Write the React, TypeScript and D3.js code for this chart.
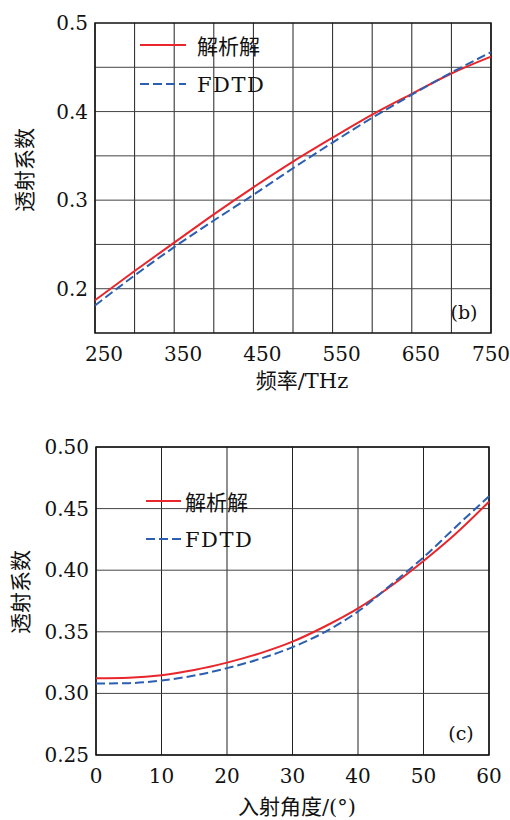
import React from "react";
import { scaleLinear, line, curveMonotoneX, range } from "d3";

// panel (b): transmission vs frequency
const freqTHz = [250, 300, 350, 400, 450, 500, 550, 600, 650, 700, 750];
const freqAnalytic = [0.187, 0.22, 0.252, 0.284, 0.3145, 0.3435, 0.3705, 0.3965, 0.42, 0.443, 0.462];
const freqFdtd = [0.181, 0.215, 0.247, 0.277, 0.306, 0.336, 0.365, 0.393, 0.419, 0.444, 0.467];
const freqTicks = [250, 350, 450, 550, 650, 750];
const freqYTicks = [0.2, 0.3, 0.4, 0.5];

// panel (c): transmission vs incidence angle
const angleDeg = [0, 5, 10, 15, 20, 25, 30, 35, 40, 45, 50, 55, 60];
const angleAnalytic = [0.3123, 0.3128, 0.3148, 0.319, 0.325, 0.3325, 0.342, 0.3545, 0.369, 0.387, 0.4075, 0.43, 0.4556];
const angleFdtd = [0.308, 0.3083, 0.3105, 0.3145, 0.3205, 0.328, 0.3375, 0.35, 0.3665, 0.388, 0.4105, 0.4355, 0.46];
const angleTicks = [0, 10, 20, 30, 40, 50, 60];
const angleYTicks = [0.25, 0.3, 0.35, 0.4, 0.45, 0.5];

const legendNames = ["解析解", "FDTD"];
const RED = "#e8262c";
const BLUE = "#2c5fb0";
const serif = "'DejaVu Serif', 'Liberation Serif', 'Times New Roman', serif";
const cjk = "'Noto Sans CJK SC', sans-serif";
const serifStyle = { fontFamily: serif };
const cjkStyle = { fontFamily: cjk };

type PanelProps = {
  box: { x0: number; x1: number; y0: number; y1: number };
  xDomain: [number, number];
  yDomain: [number, number];
  xs: number[];
  a: number[];
  b: number[];
  xGrid: number[];
  yGrid: number[];
  xTicks: number[];
  yTicks: number[];
  yFmt: (v: number) => string;
  xShift: number;
  xLabel: [string, string];
  xLabelPos: [number, number];
  yLabelPos: [number, number];
  legend: { x0: number; x1: number; tx: number; y: number[] };
  tag: string;
  tagPos: [number, number];
};

const Panel = (p: PanelProps) => {
  const x = scaleLinear().domain(p.xDomain).range([p.box.x0, p.box.x1]);
  const y = scaleLinear().domain(p.yDomain).range([p.box.y1, p.box.y0]);
  const gen = line<number>()
    .x((_, i) => x(p.xs[i]))
    .y(d => y(d))
    .curve(curveMonotoneX);
  return (
    <g>
      {p.xGrid.map(v => (
        <line key={"vx" + v} x1={x(v)} x2={x(v)} y1={p.box.y0} y2={p.box.y1} stroke="#222" strokeWidth={1} />
      ))}
      {p.yGrid.map(v => (
        <line key={"hy" + v} x1={p.box.x0} x2={p.box.x1} y1={y(v)} y2={y(v)} stroke="#444" strokeWidth={1} />
      ))}
      <rect x={p.box.x0} y={p.box.y0} width={p.box.x1 - p.box.x0} height={p.box.y1 - p.box.y0}
        fill="none" stroke="#111" strokeWidth={1.5} />
      <path d={gen(p.a) || ""} fill="none" stroke={RED} strokeWidth={2} />
      <path d={gen(p.b) || ""} fill="none" stroke={BLUE} strokeWidth={2} strokeDasharray="9,4" />
      {p.xTicks.map(v => (
        <text key={"xt" + v} x={Math.min(x(v) + p.xShift, 491)} y={p.box.y1 + 28}
          textAnchor="middle" style={serifStyle} fontSize={20} fill="#111">{v}</text>
      ))}
      {p.yTicks.map(v => (
        <text key={"yt" + v} x={p.box.x0 - 7} y={y(v) + 7}
          textAnchor="end" style={serifStyle} fontSize={20} fill="#111">{p.yFmt(v)}</text>
      ))}
      <text x={p.xLabelPos[0]} y={p.xLabelPos[1]} textAnchor="middle" fontSize={21} fill="#111">
        <tspan style={cjkStyle}>{p.xLabel[0]}</tspan>
        <tspan style={serifStyle} fontSize={21}>{p.xLabel[1]}</tspan>
      </text>
      <text transform={`translate(${p.yLabelPos[0]},${p.yLabelPos[1]}) rotate(-90)`} textAnchor="middle"
        dominantBaseline="central" style={cjkStyle} fontSize={21} fill="#111">透射系数</text>
      <line x1={p.legend.x0} x2={p.legend.x1} y1={p.legend.y[0]} y2={p.legend.y[0]} stroke={RED} strokeWidth={2} />
      <line x1={p.legend.x0} x2={p.legend.x1} y1={p.legend.y[1]} y2={p.legend.y[1]} stroke={BLUE} strokeWidth={2}
        strokeDasharray="9,4" />
      <text x={p.legend.tx} y={p.legend.y[0]} dominantBaseline="central" style={cjkStyle} fontSize={21} fill="#111">
        {legendNames[0]}
      </text>
      <text x={p.legend.tx} y={p.legend.y[1] + 1} dominantBaseline="central" style={serifStyle} fontSize={21}
        letterSpacing={1.5} fill="#111">
        {legendNames[1]}
      </text>
      <text x={p.tagPos[0]} y={p.tagPos[1]} textAnchor="middle" dominantBaseline="central"
        style={serifStyle} fontSize={19} fill="#111">{p.tag}</text>
    </g>
  );
};

export default function App() {
  return (
    <svg width={510} height={820} style={{ position: "absolute", left: 0, top: 0, background: "#fff" }}>
      <Panel
        box={{ x0: 95, x1: 491, y0: 23, y1: 333 }}
        xDomain={[250, 750]}
        yDomain={[0.15, 0.5]}
        xs={freqTHz}
        a={freqAnalytic}
        b={freqFdtd}
        xGrid={range(250, 751, 50)}
        yGrid={[0.2, 0.25, 0.3, 0.35, 0.4, 0.45]}
        xTicks={freqTicks}
        yTicks={freqYTicks}
        yFmt={v => v.toFixed(1)}
        xShift={9}
        xLabel={["频率", "/THz"]}
        xLabelPos={[302, 388]}
        yLabelPos={[23, 170]}
        legend={{ x0: 140, x1: 186, tx: 197, y: [45, 84] }}
        tag="(b)"
        tagPos={[464, 312]}
      />
      <Panel
        box={{ x0: 96, x1: 489, y0: 447, y1: 755 }}
        xDomain={[0, 60]}
        yDomain={[0.25, 0.5]}
        xs={angleDeg}
        a={angleAnalytic}
        b={angleFdtd}
        xGrid={angleTicks}
        yGrid={angleYTicks}
        xTicks={angleTicks}
        yTicks={angleYTicks}
        yFmt={v => v.toFixed(2)}
        xShift={0}
        xLabel={["入射角度", "/(°)"]}
        xLabelPos={[297, 814]}
        yLabelPos={[19, 592]}
        legend={{ x0: 146, x1: 181, tx: 185, y: [501, 539] }}
        tag="(c)"
        tagPos={[461, 733]}
      />
    </svg>
  );
}
